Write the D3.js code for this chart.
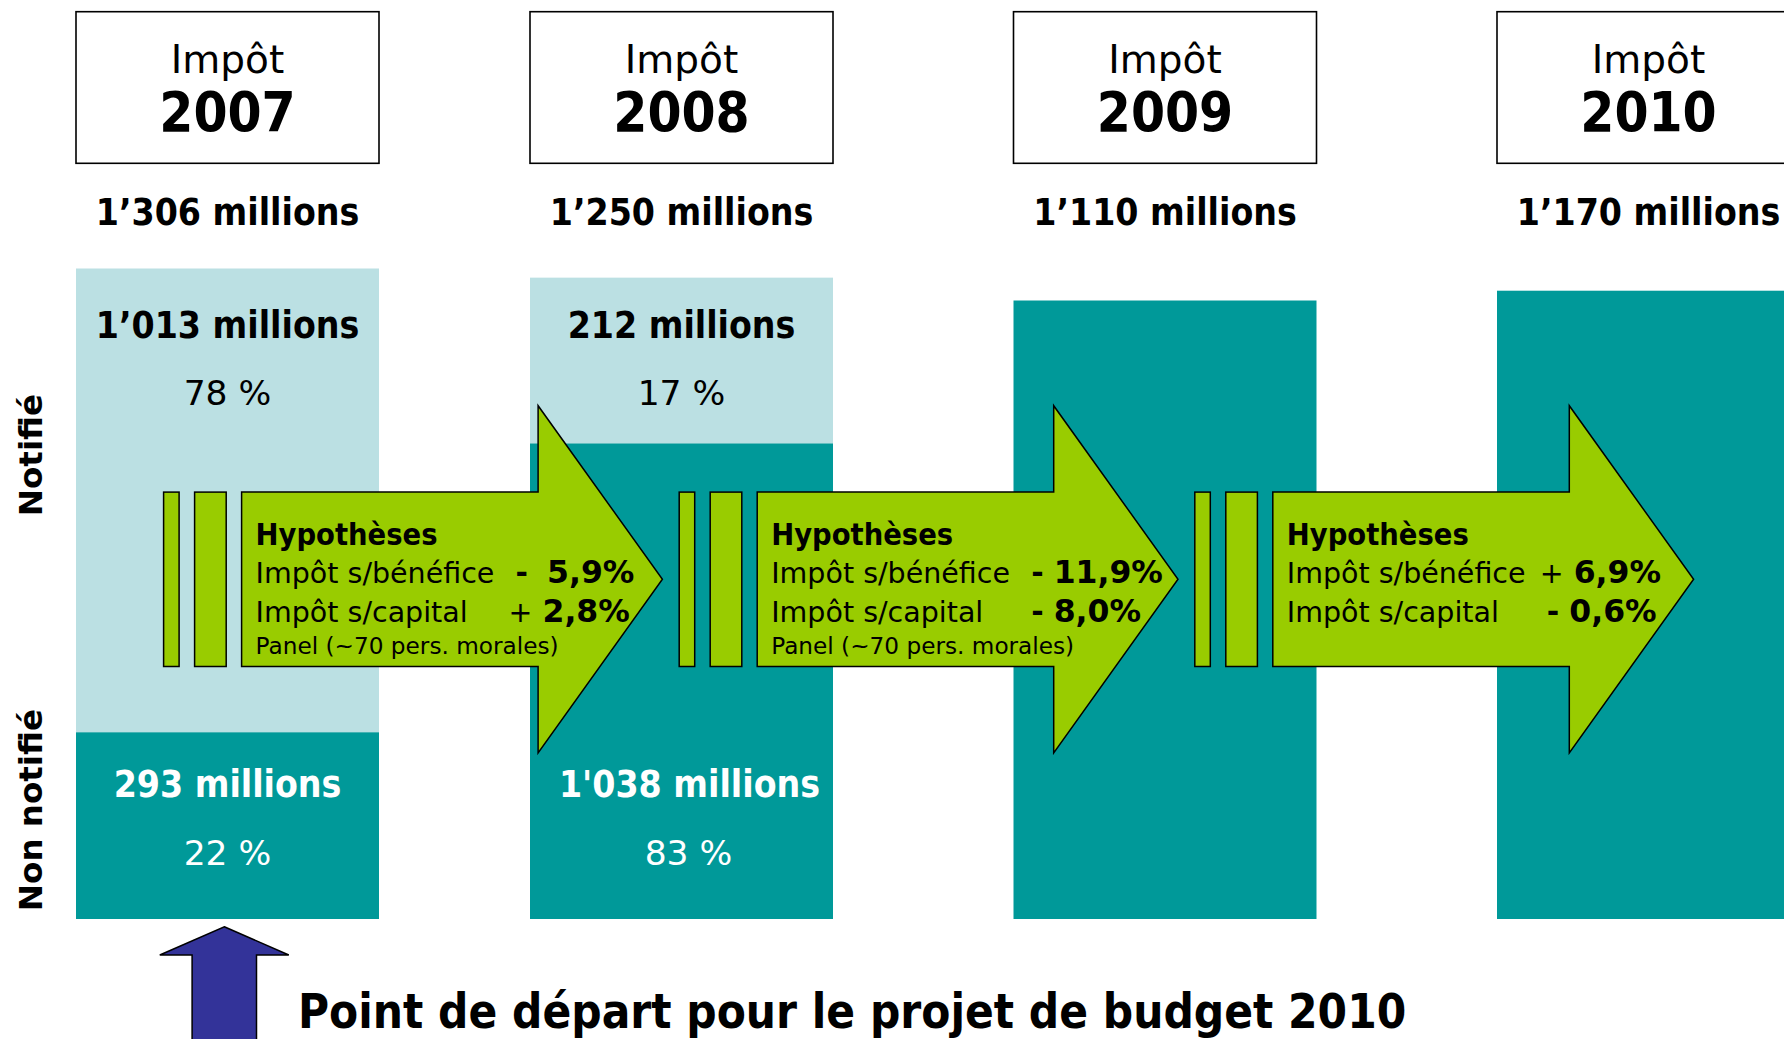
<!DOCTYPE html>
<html lang="fr">
<head>
    <meta charset="UTF-8">
    <title>Impôt 2007 - 2010</title>
    <script src="https://d3js.org/d3.v7.min.js"></script>
    <style>
        body {
            margin: 0;
            padding: 0;
            background-color: #fff;
            overflow: hidden;
        }
        svg text {
            font-family: "DejaVu Sans", sans-serif;
        }
        .cond {
            font-family: "DejaVu Sans Condensed", "DejaVu Sans", sans-serif;
            font-stretch: condensed;
            font-weight: bold;
        }
    </style>
</head>
<body>
    <div id="chart"></div>

    <script>
        // colonnes (années)
        const years = [2007, 2008, 2009, 2010];
        const totalMillions = [1306, 1250, 1110, 1170];
        const totalLabels = ["1’306 millions", "1’250 millions", "1’110 millions", "1’170 millions"];

        // répartition notifié / non notifié
        const notifiedLabels = ["1’013 millions", "212 millions", null, null];
        const notifiedPct = [78, 17, null, null];
        const nonNotifiedLabels = ["293 millions", "1'038 millions", null, null];
        const nonNotifiedPct = [22, 83, null, null];

        // hypothèses entre deux années
        const benefSign = ["-", "-", "+"];
        const benefValue = ["5,9%", "11,9%", "6,9%"];
        const capSign = ["+", "-", "-"];
        const capValue = ["2,8%", "8,0%", "0,6%"];
        const panelText = ["Panel (~70 pers. morales)", "Panel (~70 pers. morales)", null];

        const width = 1784, height = 1039;
        const colW = 303;
        const baseline = 919;

        const light = "#BBE0E3", dark = "#009999", green = "#99CC00", blue = "#333399";

        const svg = d3.select("#chart")
            .append("svg")
            .attr("width", width)
            .attr("height", height);

        svg.append("rect")
            .attr("width", width)
            .attr("height", height)
            .attr("fill", "#fff");

        // la première colonne est un peu plus proche de la deuxième
        const x = d3.scaleLinear()
            .domain([2007, 2008, 2010])
            .range([76, 530, 1497]);

        // sommet des barres (axe tronqué)
        const yTop = d3.scaleLinear()
            .domain([1110, 1306])
            .range([300.5, 268.5]);

        const data = years.map((yr, i) => ({
            year: yr,
            total: totalMillions[i],
            totalLabel: totalLabels[i],
            nLabel: notifiedLabels[i],
            nPct: notifiedPct[i],
            nnLabel: nonNotifiedLabels[i],
            nnPct: nonNotifiedPct[i]
        }));

        // part non notifiée -> fraction de la hauteur de la barre
        const share = d3.scaleLinear().domain([0, 100]).range([0.123, 0.868]);

        const col = svg.selectAll("g.col")
            .data(data)
            .enter()
            .append("g")
            .attr("class", "col")
            .attr("transform", d => `translate(${x(d.year)},0)`);

        // barres
        col.append("rect")
            .attr("x", 0)
            .attr("y", d => yTop(d.total))
            .attr("width", colW)
            .attr("height", d => baseline - yTop(d.total))
            .attr("fill", d => d.nnPct == null ? dark : light);

        col.filter(d => d.nnPct != null)
            .append("rect")
            .attr("x", 0)
            .attr("y", d => {
                const h = baseline - yTop(d.total);
                return baseline - h * share(d.nnPct);
            })
            .attr("width", colW)
            .attr("height", d => (baseline - yTop(d.total)) * share(d.nnPct))
            .attr("fill", dark);

        // en-têtes
        col.append("rect")
            .attr("x", 0)
            .attr("y", 11.7)
            .attr("width", colW)
            .attr("height", 151.6)
            .attr("fill", "#fff")
            .attr("stroke", "#000")
            .attr("stroke-width", 1.6);

        col.append("text")
            .attr("x", colW / 2)
            .attr("y", 72.7)
            .attr("text-anchor", "middle")
            .style("font-size", "39px")
            .text("Impôt");

        col.append("text")
            .attr("class", "cond")
            .attr("x", colW / 2)
            .attr("y", 131)
            .attr("text-anchor", "middle")
            .style("font-size", "54.5px")
            .text(d => d.year);

        col.append("text")
            .attr("class", "cond")
            .attr("x", colW / 2)
            .attr("y", 225)
            .attr("text-anchor", "middle")
            .style("font-size", "37px")
            .text(d => d.totalLabel);

        // étiquettes des segments
        const seg = col.filter(d => d.nLabel != null);

        seg.append("text")
            .attr("class", "cond")
            .attr("x", colW / 2)
            .attr("y", 338)
            .attr("text-anchor", "middle")
            .style("font-size", "37px")
            .text(d => d.nLabel);

        seg.append("text")
            .attr("x", colW / 2)
            .attr("y", 404.5)
            .attr("text-anchor", "middle")
            .style("font-size", "34.5px")
            .text(d => d.nPct + " %");

        seg.append("text")
            .attr("class", "cond")
            .attr("x", (d, i) => colW / 2 + (i === 1 ? 8 : 0))
            .attr("y", 796.5)
            .attr("text-anchor", "middle")
            .attr("fill", "#fff")
            .style("font-size", "37px")
            .text(d => d.nnLabel);

        seg.append("text")
            .attr("x", (d, i) => colW / 2 + (i === 1 ? 7 : 0))
            .attr("y", 865)
            .attr("text-anchor", "middle")
            .attr("fill", "#fff")
            .style("font-size", "34.5px")
            .text(d => d.nnPct + " %");

        // flèches "Hypothèses"
        const arrowX = d3.scaleLinear().domain([0, 2]).range([163.6, 1194.8]);
        const cy = 579.3, bodyH = 87.2, headH = 173.6;

        const hypo = benefSign.map((s, i) => ({
            i: i,
            bSign: s,
            bVal: benefValue[i],
            cSign: capSign[i],
            cVal: capValue[i],
            panel: panelText[i]
        }));

        const arr = svg.selectAll("g.arrow")
            .data(hypo)
            .enter()
            .append("g")
            .attr("class", "arrow")
            .attr("transform", d => `translate(${arrowX(d.i)},${cy})`);

        arr.append("rect")
            .attr("x", 0).attr("y", -bodyH)
            .attr("width", 15.5).attr("height", bodyH * 2);

        arr.append("rect")
            .attr("x", 31).attr("y", -bodyH)
            .attr("width", 31.6).attr("height", bodyH * 2);

        arr.selectAll("rect")
            .attr("fill", green)
            .attr("stroke", "#000")
            .attr("stroke-width", 1.5);

        const arrowPts = [
            [78, -bodyH], [374.5, -bodyH], [374.5, -headH], [498.8, 0],
            [374.5, headH], [374.5, bodyH], [78, bodyH]
        ];

        arr.append("path")
            .attr("d", d3.line()(arrowPts) + "Z")
            .attr("fill", green)
            .attr("stroke", "#000")
            .attr("stroke-width", 1.5)
            .attr("stroke-linejoin", "miter");

        const tx = 92;

        arr.append("text")
            .attr("class", "cond")
            .attr("x", tx)
            .attr("y", -34.3)
            .style("font-size", "30.5px")
            .text("Hypothèses");

        const rows = [
            { label: "Impôt s/bénéfice", y: 4, sign: d => d.bSign, val: d => d.bVal },
            { label: "Impôt s/capital", y: 42.4, sign: d => d.cSign, val: d => d.cVal }
        ];

        rows.forEach(r => {
            arr.append("text")
                .attr("x", tx)
                .attr("y", r.y)
                .style("font-size", "28.5px")
                .text(r.label);

            const t = arr.append("text")
                .attr("x", d => r.sign(d) === "+" ? 345 : 352)
                .attr("y", r.y);

            t.append("tspan")
                .style("font-size", d => r.sign(d) === "+" ? "28.5px" : "30px")
                .style("font-weight", d => r.sign(d) === "+" ? "normal" : "bold")
                .text(r.sign);

            t.append("tspan")
                .attr("dx", (d) => d.i === 0 && r.y === 4 ? 19 : 10)
                .style("font-size", "31.5px")
                .style("font-weight", "bold")
                .text(r.val);
        });

        arr.filter(d => d.panel != null)
            .append("text")
            .attr("x", tx)
            .attr("y", 75)
            .style("font-size", "23.2px")
            .text(d => d.panel);

        // légende verticale
        const sideLabels = [
            { text: "Notifié", cy: 455 },
            { text: "Non notifié", cy: 810 }
        ];

        svg.selectAll("text.side")
            .data(sideLabels)
            .enter()
            .append("text")
            .attr("class", "side")
            .attr("transform", d => `translate(42,${d.cy}) rotate(-90)`)
            .attr("text-anchor", "middle")
            .style("font-size", "32.5px")
            .style("font-weight", "bold")
            .text(d => d.text);

        // point de départ
        const ax = x(2007) + 148.3;
        const upPts = [
            [ax, 926.7], [ax + 64.5, 955], [ax + 32.2, 955], [ax + 32.2, 1060],
            [ax - 32.2, 1060], [ax - 32.2, 955], [ax - 64.5, 955]
        ];

        svg.append("path")
            .attr("d", d3.line()(upPts) + "Z")
            .attr("fill", blue)
            .attr("stroke", "#000")
            .attr("stroke-width", 1.5);

        svg.append("text")
            .attr("class", "cond")
            .attr("x", 298)
            .attr("y", 1027.5)
            .style("font-size", "47.2px")
            .text("Point de départ pour le projet de budget 2010");
    </script>
</body>
</html>
